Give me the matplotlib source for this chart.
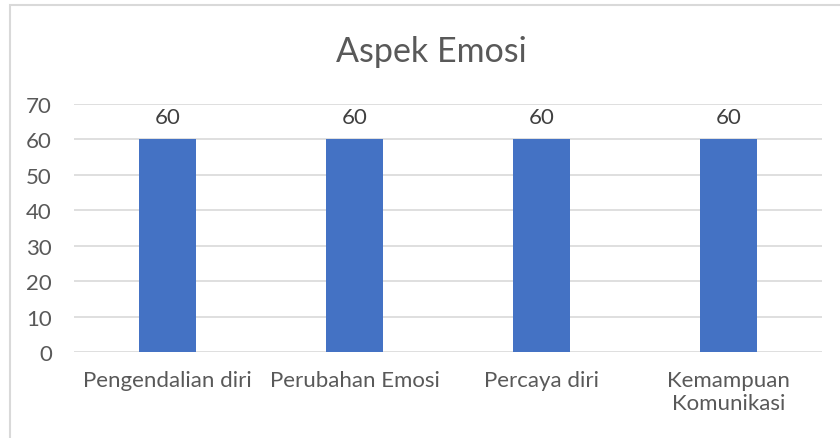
import matplotlib
matplotlib.use('Agg')
import matplotlib.pyplot as plt
from matplotlib.patches import Rectangle

# data
categories = ['Pengendalian diri', 'Perubahan Emosi', 'Percaya diri', 'Kemampuan\nKomunikasi']
values = [60, 60, 60, 60]
yticks = [0, 10, 20, 30, 40, 50, 60, 70]

plt.rcParams['font.family'] = ['Lato', 'DejaVu Sans']
txt = '#595959'

fig = plt.figure(figsize=(8.4, 4.39), dpi=100)
# outer chart border (right and bottom fall off the image)
fig.patches.append(Rectangle((10/840, -0.1), 1.0, 1.1 - 6/439, transform=fig.transFigure,
                             fill=False, edgecolor='#D9D9D9', linewidth=1.5))
ax = fig.add_axes([74/840, 1 - 353/439, (822 - 74)/840, (353 - 105)/439])

x = range(len(categories))
bars = ax.bar(x, values, width=0.31, color='#4472C4', zorder=3)
for b, v in zip(bars, values):
    ax.text(b.get_x() + b.get_width()/2, v + 3.5, str(v), ha='center', va='bottom',
            fontsize=16, color='#404040')

ax.set_xlim(-0.5, len(categories) - 0.5)
ax.set_ylim(0, 70)
ax.set_yticks(yticks)
ax.set_xticks(list(x))
ax.set_xticklabels(categories, fontsize=16, color=txt, linespacing=1.2)
ax.tick_params(axis='y', labelsize=16, labelcolor=txt, length=0, pad=16)
ax.tick_params(axis='x', length=0, pad=13)
ax.yaxis.grid(True, color='#D9D9D9', linewidth=1.2, zorder=0)
for s in ax.spines.values():
    s.set_visible(False)

fig.text(431/840, 1 - 52/439, 'Aspek Emosi', ha='center', va='center', fontsize=24.5, color=txt)

fig.savefig('out.png', dpi=100)
